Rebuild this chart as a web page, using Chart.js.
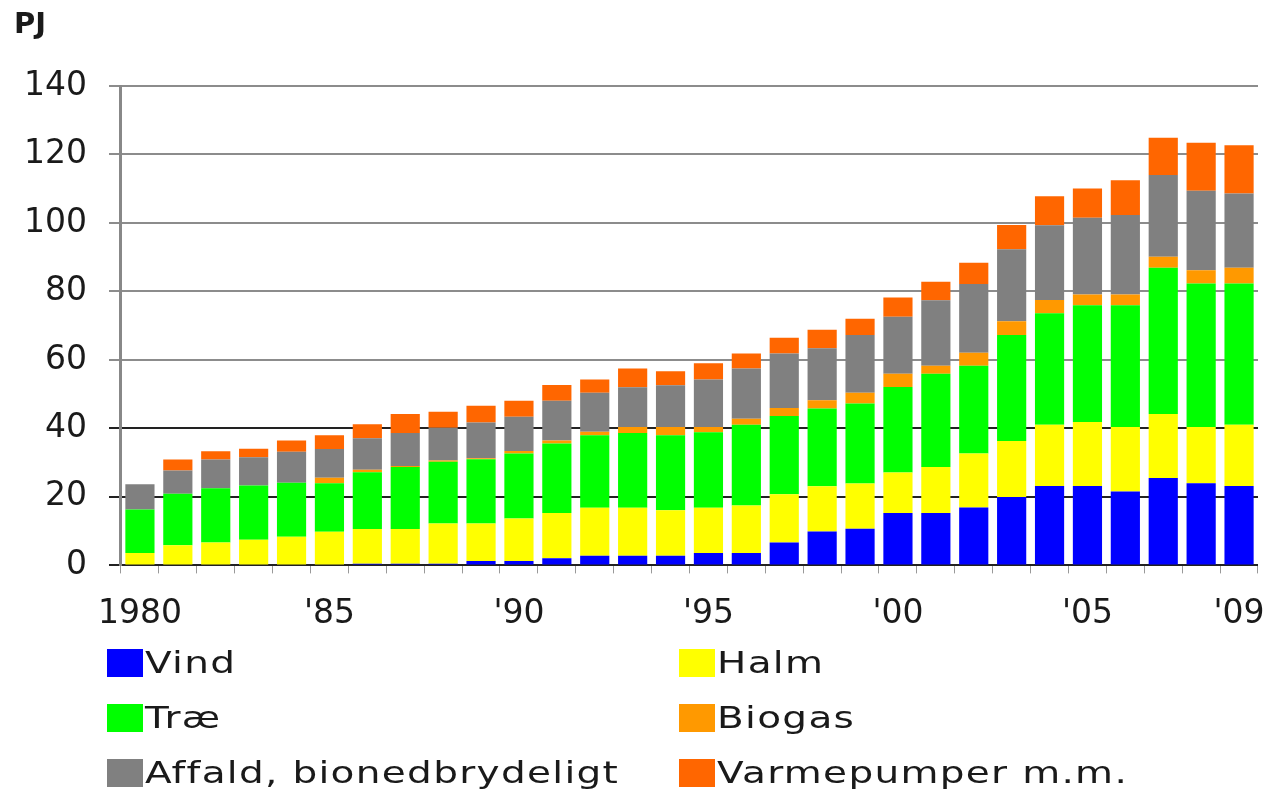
<!DOCTYPE html>
<html>
<head>
<meta charset="utf-8">
<script src="https://cdn.jsdelivr.net/npm/chart.js@4.4.1/dist/chart.umd.min.js"></script>
<style>
  body { margin: 0; background: #fff; overflow: hidden; }
  #wrap { position: relative; width: 1270px; height: 789px; font-family: "DejaVu Sans", Verdana, sans-serif; }
  #box { position: absolute; left: 0; top: 0; width: 1270px; height: 659px; }
  #unit { position: absolute; left: 14px; top: 6px; font-size: 29px; font-weight: bold; line-height: 34px; color: #1a1a1a; }
  #legend { position: absolute; left: 107px; top: 649px; width: 1160px; }
  .item { position: absolute; height: 28px; white-space: nowrap; }
  .item .sw { position: absolute; left: 0; top: 0; width: 36px; height: 28px; }
  .item .lb { position: absolute; left: 38px; top: 0; font-size: 30px; line-height: 28px; color: #1a1a1a;
              letter-spacing: 1px; transform: scaleX(1.3); transform-origin: 0 0; }
</style>
</head>
<body>
<div id="wrap">
  <div id="box"><canvas id="mycanvas"></canvas></div>
  <div id="unit">PJ</div>
  <div id="legend"></div>
</div>
<script>
var years = [];
for (var y = 1980; y <= 2009; y++) years.push(String(y));

var tickLabels = ['1980','','','','',"'85",'','','','',"'90",'','','','',"'95",'','','','',"'00",'','','','',"'05",'','','',"'09"];

var vind   = [0,0,0,0,0,0,0.5,0.5,0.5,1.3,1.3,2.1,2.8,2.8,2.8,3.6,3.6,6.7,9.9,10.7,15.3,15.3,16.9,20.0,23.2,23.2,21.6,25.5,24.0,23.2];
var halm   = [3.6,5.9,6.7,7.5,8.4,9.8,10.1,10.1,11.7,10.9,12.4,13.2,14.0,14.0,13.3,13.2,13.9,14.1,13.2,13.2,11.8,13.4,15.8,16.3,17.9,18.7,18.8,18.7,16.4,17.9];
var trae   = [12.7,15.0,15.8,15.8,15.7,14.2,16.6,18.1,18.1,18.8,19.0,20.3,21.2,21.9,21.9,22.1,23.6,22.8,22.7,23.4,25.0,27.3,25.6,31.0,32.5,34.1,35.6,42.7,41.9,41.2];
var biogas = [0,0,0,0,0,1.6,0.7,0.3,0.3,0.3,0.7,0.9,1.0,1.7,2.4,1.5,1.7,2.4,2.4,3.1,3.9,2.3,3.8,4.0,3.9,3.1,3.1,3.2,3.9,4.6];
var affald = [7.4,6.8,8.4,8.3,9.1,8.4,9.2,9.7,9.6,10.4,10.0,11.6,11.4,11.6,12.2,13.9,14.7,15.9,15.2,16.9,16.6,19.1,20.1,21.0,21.8,22.4,23.2,23.9,23.2,21.7];
var varme  = [0,3.2,2.4,2.5,3.3,4.0,4.1,5.5,4.7,4.9,4.7,4.6,3.9,5.5,4.1,4.7,4.4,4.6,5.4,4.7,5.6,5.4,6.2,7.1,8.5,8.6,10.2,10.9,14.0,14.1];

var seriesNames  = ['Vind', 'Halm', 'Træ', 'Biogas', 'Affald, bionedbrydeligt', 'Varmepumper m.m.'];
var seriesColors = ['#0000ff', '#ffff00', '#00ff00', '#ff9900', '#808080', '#ff6600'];
var seriesData   = [vind, halm, trae, biogas, affald, varme];

var datasets = [];
for (var i = 0; i < seriesNames.length; i++) {
	datasets.push({
		label: seriesNames[i],
		data: seriesData[i],
		backgroundColor: seriesColors[i],
		borderWidth: 0,
		categoryPercentage: 1.0,
		barPercentage: 0.77
	});
}

var txt = '#1a1a1a';
var font = 'DejaVu Sans';

var ctx = document.getElementById('mycanvas');
var chart = new Chart(ctx, {
	type: 'bar',
	data: { labels: years, datasets: datasets },
	options: {
		responsive: true,
		maintainAspectRatio: false,
		animation: false,
		layout: { padding: { left: 2, right: 12, top: 86, bottom: 4 } },
		plugins: {
			legend: { display: false },
			tooltip: { enabled: false }
		},
		scales: {
			x: {
				stacked: true,
				afterFit: function(scale) { scale.paddingLeft = 0; scale.paddingRight = 0; },
				grid: { display: true, drawOnChartArea: false, tickLength: 8, color: '#999', lineWidth: 1 },
				border: { display: false },
				ticks: {
					autoSkip: false,
					maxRotation: 0,
					padding: 21,
					color: txt,
					font: { family: font, size: 33 },
					callback: function(val, idx) { return tickLabels[idx]; }
				}
			},
			y: {
				stacked: true,
				min: 0,
				max: 140,
				ticks: {
					stepSize: 20,
					padding: 22,
					color: txt,
					font: { family: font, size: 33 }
				},
				grid: {
					tickLength: 12,
					lineWidth: 2,
					color: function(c) { return c.tick && c.tick.value <= 40 ? '#222' : '#8c8c8c'; }
				},
				border: { display: true, color: '#888', width: 3 }
			}
		}
	}
});

// legend in two columns below the chart
var leg = document.getElementById('legend');
for (var k = 0; k < seriesNames.length; k++) {
	var d = document.createElement('div');
	d.className = 'item';
	d.style.left = (k % 2 === 0 ? 0 : 572) + 'px';
	d.style.top = (Math.floor(k / 2) * 55) + 'px';
	d.innerHTML = '<span class="sw" style="background:' + seriesColors[k] + '"></span><span class="lb">' + seriesNames[k] + '</span>';
	leg.appendChild(d);
}
</script>
</body>
</html>
